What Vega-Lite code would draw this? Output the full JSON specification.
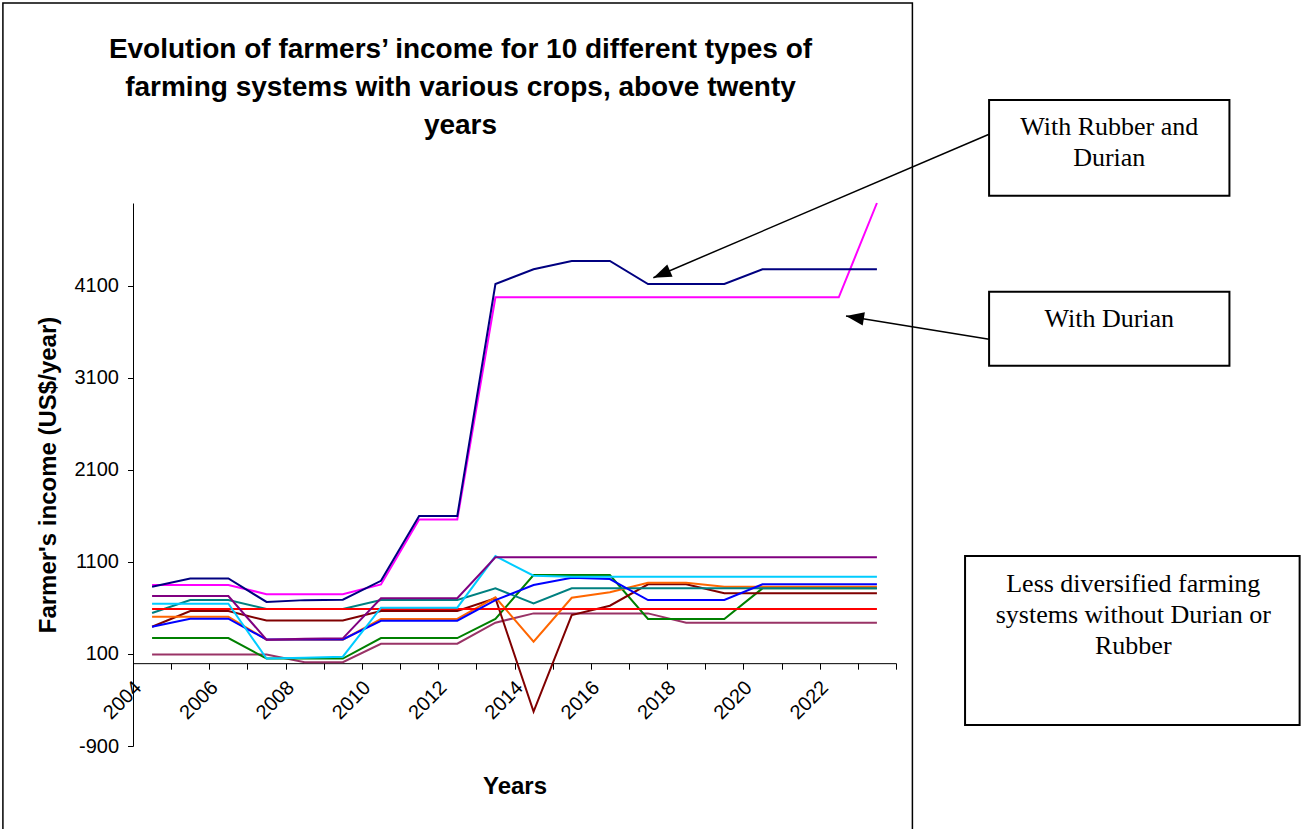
{
  "$schema": "https://vega.github.io/schema/vega-lite/v6.json",
  "width": 763,
  "height": 543,
  "autosize": {"type": "none"},
  "padding": {"left": 133, "top": 203, "right": 405, "bottom": 83},
  "background": "white",
  "config": {"view": {"stroke": null}, "font": "Liberation Sans"},
  "title": {
    "text": ["Evolution of farmers’ income for 10 different types of", "farming systems with various crops, above twenty", "years"],
    "font": "Liberation Sans",
    "fontSize": 28,
    "fontWeight": "bold",
    "color": "black",
    "lineHeight": 38,
    "anchor": "middle",
    "frame": "group",
    "dx": -54,
    "offset": -138
  },
  "datasets": {
    "income": [
      {"year": 2004, "rubber_durian": 830, "durian": 850, "sys3": 730, "sys4": 545, "sys5": 646, "sys6": 588, "sys7": 396, "sys8": 505, "sys9": 396, "sys10": 273, "sys11": 95},
      {"year": 2005, "rubber_durian": 920, "durian": 850, "sys3": 730, "sys4": 686, "sys5": 646, "sys6": 588, "sys7": 567, "sys8": 505, "sys9": 483, "sys10": 273, "sys11": 95},
      {"year": 2006, "rubber_durian": 920, "durian": 850, "sys3": 730, "sys4": 686, "sys5": 646, "sys6": 588, "sys7": 567, "sys8": 505, "sys9": 483, "sys10": 273, "sys11": 95},
      {"year": 2007, "rubber_durian": 665, "durian": 750, "sys3": 255, "sys4": 588, "sys5": 50, "sys6": 588, "sys7": 463, "sys8": 255, "sys9": 257, "sys10": 50, "sys11": 95},
      {"year": 2008, "rubber_durian": 685, "durian": 750, "sys3": 265, "sys4": 588, "sys5": 60, "sys6": 588, "sys7": 463, "sys8": 255, "sys9": 257, "sys10": 50, "sys11": 10},
      {"year": 2009, "rubber_durian": 690, "durian": 750, "sys3": 270, "sys4": 588, "sys5": 70, "sys6": 588, "sys7": 463, "sys8": 255, "sys9": 257, "sys10": 50, "sys11": 10},
      {"year": 2010, "rubber_durian": 895, "durian": 855, "sys3": 705, "sys4": 686, "sys5": 603, "sys6": 588, "sys7": 567, "sys8": 480, "sys9": 461, "sys10": 273, "sys11": 211},
      {"year": 2011, "rubber_durian": 1600, "durian": 1560, "sys3": 705, "sys4": 686, "sys5": 603, "sys6": 588, "sys7": 567, "sys8": 480, "sys9": 461, "sys10": 273, "sys11": 211},
      {"year": 2012, "rubber_durian": 1600, "durian": 1560, "sys3": 705, "sys4": 686, "sys5": 603, "sys6": 588, "sys7": 567, "sys8": 480, "sys9": 461, "sys10": 273, "sys11": 211},
      {"year": 2013, "rubber_durian": 4120, "durian": 3975, "sys3": 1150, "sys4": 813, "sys5": 1164, "sys6": 588, "sys7": 705, "sys8": 716, "sys9": 686, "sys10": 480, "sys11": 440},
      {"year": 2014, "rubber_durian": 4280, "durian": 3975, "sys3": 1150, "sys4": 650, "sys5": 950, "sys6": 588, "sys7": -527, "sys8": 233, "sys9": 849, "sys10": 958, "sys11": 541},
      {"year": 2015, "rubber_durian": 4370, "durian": 3975, "sys3": 1150, "sys4": 813, "sys5": 940, "sys6": 588, "sys7": 523, "sys8": 711, "sys9": 929, "sys10": 958, "sys11": 541},
      {"year": 2016, "rubber_durian": 4370, "durian": 3975, "sys3": 1150, "sys4": 813, "sys5": 940, "sys6": 588, "sys7": 624, "sys8": 770, "sys9": 914, "sys10": 958, "sys11": 541},
      {"year": 2017, "rubber_durian": 4120, "durian": 3975, "sys3": 1150, "sys4": 813, "sys5": 940, "sys6": 588, "sys7": 857, "sys8": 874, "sys9": 686, "sys10": 480, "sys11": 541},
      {"year": 2018, "rubber_durian": 4120, "durian": 3975, "sys3": 1150, "sys4": 813, "sys5": 940, "sys6": 588, "sys7": 857, "sys8": 874, "sys9": 686, "sys10": 480, "sys11": 440},
      {"year": 2019, "rubber_durian": 4120, "durian": 3975, "sys3": 1150, "sys4": 813, "sys5": 940, "sys6": 588, "sys7": 759, "sys8": 831, "sys9": 686, "sys10": 480, "sys11": 440},
      {"year": 2020, "rubber_durian": 4280, "durian": 3975, "sys3": 1150, "sys4": 813, "sys5": 940, "sys6": 588, "sys7": 759, "sys8": 831, "sys9": 857, "sys10": 813, "sys11": 440},
      {"year": 2021, "rubber_durian": 4280, "durian": 3975, "sys3": 1150, "sys4": 813, "sys5": 940, "sys6": 588, "sys7": 759, "sys8": 831, "sys9": 857, "sys10": 813, "sys11": 440},
      {"year": 2022, "rubber_durian": 4280, "durian": 3975, "sys3": 1150, "sys4": 813, "sys5": 940, "sys6": 588, "sys7": 759, "sys8": 831, "sys9": 857, "sys10": 813, "sys11": 440},
      {"year": 2023, "rubber_durian": 4280, "durian": 5000, "sys3": 1150, "sys4": 813, "sys5": 940, "sys6": 588, "sys7": 759, "sys8": 831, "sys9": 857, "sys10": 813, "sys11": 440}
    ],
    "frame": [{"year": 2000.09, "year2": 2023.93, "income": 7173, "income2": -1921}],
    "boxes": [
      {"year": 2025.94, "year2": 2032.24, "income": 6119.2, "income2": 5079.3},
      {"year": 2025.94, "year2": 2032.24, "income": 4036.2, "income2": 3232.2},
      {"year": 2025.31, "year2": 2034.08, "income": 1164.4, "income2": -671.8}
    ],
    "notes": [
      {"year": 2029.09, "income": 5738.9, "label": "With Rubber and\nDurian"},
      {"year": 2029.09, "income": 3655.9, "label": "With Durian"},
      {"year": 2029.72, "income": 776.5, "label": "Less diversified farming\nsystems without Durian or\nRubber"}
    ],
    "arrows": [
      {"year": 2025.94, "income": 5746.5, "year2": 2017.14, "income2": 4188.3},
      {"year": 2025.94, "income": 3519.0, "year2": 2022.19, "income2": 3772.2}
    ]
  },
  "encoding": {
    "x": {
      "field": "year",
      "type": "quantitative",
      "scale": {"domain": [2003.5, 2023.5], "nice": false, "zero": false},
      "axis": {
        "title": "Years",
        "values": [2003.5, 2004.5, 2005.5, 2006.5, 2007.5, 2008.5, 2009.5, 2010.5, 2011.5, 2012.5, 2013.5, 2014.5, 2015.5, 2016.5, 2017.5, 2018.5, 2019.5, 2020.5, 2021.5, 2022.5, 2023.5],
        "labelExpr": "(datum.value + 0.5) % 2 === 0 && datum.value < 2023 ? '' + (datum.value + 0.5) : ''",
        "offset": -82.83,
        "grid": false,
        "tickSize": 6,
        "tickColor": "black",
        "domainColor": "black",
        "labelAngle": -45,
        "labelAlign": "right",
        "labelBaseline": "middle",
        "labelOffset": 5,
        "labelPadding": 15,
        "labelFlush": false,
        "labelOverlap": false,
        "labelBound": false,
        "labelFont": "Liberation Sans",
        "labelFontSize": 20,
        "labelColor": "black",
        "titleFont": "Liberation Sans",
        "titleFontSize": 24,
        "titleFontWeight": "bold",
        "titleColor": "black",
        "titlePadding": 52
      }
    },
    "y": {
      "field": "income",
      "type": "quantitative",
      "scale": {"domain": [-900, 5000], "nice": false, "zero": false},
      "axis": {
        "title": "Farmer's income (US$/year)",
        "values": [-900, 100, 1100, 2100, 3100, 4100],
        "labelExpr": "'' + datum.value",
        "grid": false,
        "tickSize": 5.5,
        "tickColor": "black",
        "domainColor": "black",
        "labelPadding": 9,
        "labelFlush": false,
        "labelOverlap": false,
        "labelFont": "Liberation Sans",
        "labelFontSize": 20,
        "labelColor": "black",
        "titleFont": "Liberation Sans",
        "titleFontSize": 24,
        "titleFontWeight": "bold",
        "titleColor": "black",
        "titlePadding": 14
      }
    }
  },
  "layer": [
    {
      "data": {"name": "frame"},
      "mark": {"type": "rect", "fill": null, "fillOpacity": 0, "stroke": "black", "strokeWidth": 1.5},
      "encoding": {"x2": {"field": "year2"}, "y2": {"field": "income2"}}
    },
    {
      "data": {"name": "income"},
      "transform": [
        {"fold": ["sys11", "sys10", "sys7", "sys8", "sys4", "sys6", "sys9", "sys5", "sys3", "durian", "rubber_durian"], "as": ["series", "income"]}
      ],
      "mark": {"type": "line", "strokeWidth": 2},
      "encoding": {
        "color": {
          "field": "series",
          "type": "nominal",
          "legend": null,
          "scale": {
            "domain": ["rubber_durian", "durian", "sys3", "sys4", "sys5", "sys6", "sys7", "sys8", "sys9", "sys10", "sys11"],
            "range": ["#000080", "#FF00FF", "#800080", "#008080", "#00CCFF", "#FF0000", "#800000", "#FF6600", "#0000FF", "#008000", "#993366"]
          }
        }
      }
    },
    {
      "data": {"name": "boxes"},
      "mark": {"type": "rect", "fill": null, "fillOpacity": 0, "stroke": "black", "strokeWidth": 2},
      "encoding": {"x2": {"field": "year2"}, "y2": {"field": "income2"}}
    },
    {
      "data": {"name": "notes"},
      "mark": {"type": "text", "font": "Liberation Serif", "fontSize": 26, "align": "center", "baseline": "alphabetic", "lineBreak": "\n", "lineHeight": 31, "color": "black"},
      "encoding": {"text": {"field": "label", "type": "nominal"}}
    },
    {
      "data": {"name": "arrows"},
      "mark": {"type": "rule", "stroke": "black", "strokeWidth": 1.5},
      "encoding": {"x2": {"field": "year2"}, "y2": {"field": "income2"}}
    },
    {
      "data": {"values": [{"year": 2017.14, "income": 4188.3}]},
      "mark": {"type": "point", "shape": "M0,0 L-2,-0.75 L-2,0.75 Z", "size": 324, "filled": true, "color": "black", "opacity": 1, "angle": 156.87},
      "encoding": {}
    },
    {
      "data": {"values": [{"year": 2022.19, "income": 3772.2}]},
      "mark": {"type": "point", "shape": "M0,0 L-2,-0.75 L-2,0.75 Z", "size": 324, "filled": true, "color": "black", "opacity": 1, "angle": 189.25},
      "encoding": {}
    }
  ]
}
